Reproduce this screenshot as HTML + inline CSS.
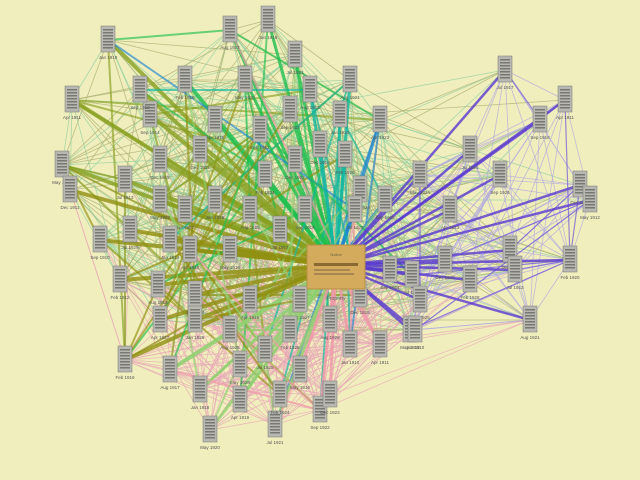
<!DOCTYPE html>
<html><head><meta charset="utf-8"><style>
html,body{margin:0;padding:0;background:#f0eebc;width:640px;height:480px;overflow:hidden}
svg{display:block}
text{font-family:"Liberation Sans",sans-serif}
</style></head><body>
<svg id="s" width="640" height="480" xmlns="http://www.w3.org/2000/svg">
<rect width="640" height="480" fill="#f0eebc"/>
<g id="pe"></g><g id="he"></g><g id="nd"></g>
<rect x="307" y="245" width="58" height="44" fill="#d4aa5c" stroke="#b89040"/>
<text x="336" y="256" font-size="4" text-anchor="middle" fill="#664">Notice</text>
<rect x="314" y="263" width="44" height="3" fill="#8a6a30"/>
<rect x="314" y="269" width="36" height="2" fill="#a88850"/>
<rect x="314" y="273" width="40" height="2" fill="#a88850"/>
<text x="336" y="300" font-size="5" text-anchor="middle" fill="#666">Property</text>
</svg>
<script>
var N=[[108,40],[72,100],[62,165],[125,180],[150,115],[160,160],[185,80],[230,30],[268,20],[215,120],[245,80],[295,55],[290,110],[295,160],[265,175],[250,210],[215,200],[185,210],[160,200],[130,230],[100,240],[70,190],[120,280],[158,285],[195,295],[190,250],[230,250],[280,230],[305,210],[320,145],[345,155],[350,80],[340,115],[380,120],[360,190],[355,210],[385,200],[300,300],[290,330],[330,320],[350,345],[380,345],[410,330],[412,275],[390,270],[360,295],[125,360],[170,370],[200,390],[240,400],[210,430],[275,425],[320,410],[330,395],[280,395],[230,330],[195,320],[160,320],[240,365],[265,350],[140,90],[200,150],[260,130],[310,90],[170,240],[250,300],[300,370],
[505,70],[540,120],[580,185],[570,260],[530,320],[510,250],[450,210],[420,175],[470,150],[500,175],[445,260],[470,280],[420,300],[415,330],[565,100],[590,200],[515,270]];
var H=[336,265],ns="http://www.w3.org/2000/svg";
function el(p,t,a){var e=document.createElementNS(ns,t);for(var k in a)e.setAttribute(k,a[k]);document.getElementById(p).appendChild(e);return e}
var seed=7;function r(){seed=(seed*16807)%2147483647;return seed/2147483647}
for(var i=0;i<N.length;i++)for(var j=i+1;j<N.length;j++){var dx=N[i][0]-N[j][0],dy=N[i][1]-N[j][1],d=Math.hypot(dx,dy);if(d<230&&r()<0.5){var c=N[i][0]>400&&N[j][0]>400?"#b0a8e0":(N[i][1]>330||N[j][1]>330?"#e8a8b8":(r()<0.5?"#a8b070":"#90d0a0"));el("pe","line",{x1:N[i][0],y1:N[i][1],x2:N[j][0],y2:N[j][1],stroke:c,"stroke-width":0.8,opacity:0.75})}}
function col(p){var a=Math.atan2(p[1]-H[1],p[0]-H[0])*180/Math.PI;
if(p[0]>385)return "#5838d0";if(a>150||a<-160)return "#909010";if(a<-135)return "#88a020";if(a<-100)return "#20c050";if(a<-75)return "#10b8a0";if(a<-20)return "#2088d0";if(a<60)return "#7090e8";if(a<110)return "#f098a8";return "#90d070"}
N.forEach(function(p){var c=col(p),w=p[0]<200?4:3;if(p[0]>385)w=2.5;el("he","line",{x1:H[0],y1:H[1],x2:p[0],y2:p[1],stroke:c,"stroke-width":w,opacity:0.8});
for(var k=0;k<2;k++){if(p[0]<385&&r()<0.6){var q=N[Math.floor(r()*67)];el("he","line",{x1:p[0],y1:p[1],x2:q[0],y2:q[1],stroke:c,"stroke-width":2,opacity:0.65})}}
if(p[0]>385&&r()<0.35){var q=N[67+Math.floor(r()*17)];el("he","line",{x1:p[0],y1:p[1],x2:q[0],y2:q[1],stroke:"#7058d8","stroke-width":1.2,opacity:0.7})}});
var mo=["Jan","Apr","May","Jul","Sep","Dec","Feb","Aug"];
N.forEach(function(p,i){el("nd","rect",{x:p[0]-7,y:p[1]-14,width:14,height:26,fill:"#b8b8b0",stroke:"#777","stroke-width":0.5});
for(var y=-11;y<9;y+=3)el("nd","rect",{x:p[0]-5,y:p[1]+y,width:10,height:1.5,fill:"#444",opacity:0.55});
var t=el("nd","text",{x:p[0],y:p[1]+19,"font-size":4.5,"text-anchor":"middle",fill:"#555"});t.textContent=mo[i%8]+" 19"+(10+i%20)});
</script>
</body></html>
